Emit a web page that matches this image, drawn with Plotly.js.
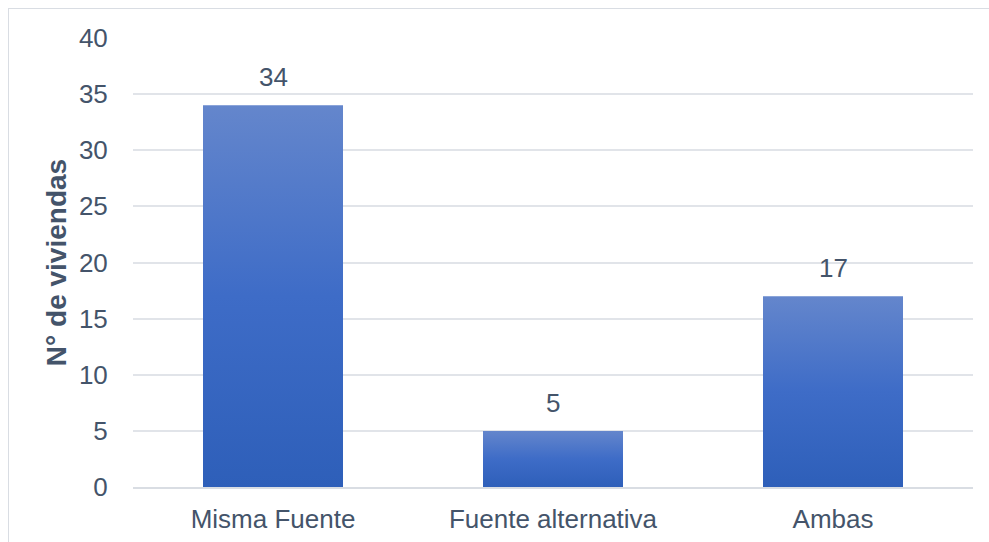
<!DOCTYPE html>
<html>
<head>
<meta charset="utf-8">
<script src="https://cdn.plot.ly/plotly-3.0.1.min.js"></script>
<style>
html,body{margin:0;padding:0;background:#fff;}
#chart{width:989px;height:542px;}
#frame{position:absolute;left:8px;top:8px;width:990px;height:540px;border:1.5px solid #D9DDE3;pointer-events:none;box-sizing:border-box;}
</style>
</head>
<body>
<div id="chart"></div>
<div id="frame"></div>
<script>
const categories = ["Misma Fuente", "Fuente alternativa", "Ambas"];
const values = [34, 5, 17];
const yTicks = [0, 5, 10, 15, 20, 25, 30, 35, 40];
const yTitle = "N° de viviendas";

const font = "Liberation Sans, Arial, sans-serif";
const trace = {
  type: "bar",
  x: categories,
  y: values,
  marker: {color: "#4A72C4", line: {width: 0}},
  hoverinfo: "none"
};
const annotations = categories.map(function(c, i){
  return {
    x: c, y: values[i], xref: "x", yref: "y",
    text: String(values[i]), showarrow: false,
    yanchor: "bottom", yshift: 11,
    font: {family: font, size: 26, color: "#44546A"}
  };
});
const layout = {
  width: 989, height: 542,
  margin: {l: 133, r: 16, t: 38, b: 55},
  paper_bgcolor: "#fff", plot_bgcolor: "#fff",
  bargap: 0.5,
  showlegend: false,
  font: {family: font, color: "#44546A"},
  annotations: annotations,
  xaxis: {
    type: "category",
    tickfont: {family: font, size: 26, color: "#44546A"},
    ticks: "outside", ticklen: 8, tickcolor: "rgba(0,0,0,0)",
    showline: true, linecolor: "#D9DDE3", linewidth: 2,
    showgrid: false, zeroline: false
  },
  yaxis: {
    range: [0, 40],
    tickvals: yTicks,
    tickfont: {family: font, size: 26, color: "#44546A"},
    ticks: "outside", ticklen: 19, tickcolor: "rgba(0,0,0,0)",
    showgrid: true, gridcolor: "#E1E4E9", gridwidth: 2,
    zeroline: false, showline: false,
    title: {text: yTitle, font: {family: font, size: 28, color: "#44546A", weight: "bold"}, standoff: 4}
  }
};
Plotly.newPlot("chart", [trace], layout, {displayModeBar: false, staticPlot: true}).then(function(gd){
  const svg = gd.querySelector("svg.main-svg");
  const ns = "http://www.w3.org/2000/svg";
  let defs = svg.querySelector("defs");
  if (!defs) { defs = document.createElementNS(ns, "defs"); svg.insertBefore(defs, svg.firstChild); }
  const grad = document.createElementNS(ns, "linearGradient");
  grad.setAttribute("id", "barGrad");
  grad.setAttribute("x1", "0"); grad.setAttribute("y1", "0");
  grad.setAttribute("x2", "0"); grad.setAttribute("y2", "1");
  [["0%", "#6486CC"], ["50%", "#3E6CC7"], ["100%", "#2E5FB9"]].forEach(function(s){
    const st = document.createElementNS(ns, "stop");
    st.setAttribute("offset", s[0]); st.setAttribute("stop-color", s[1]);
    grad.appendChild(st);
  });
  defs.appendChild(grad);
  gd.querySelectorAll(".bars .point path").forEach(function(p){
    p.style.fill = "url(#barGrad)";
  });
});
</script>
</body>
</html>
